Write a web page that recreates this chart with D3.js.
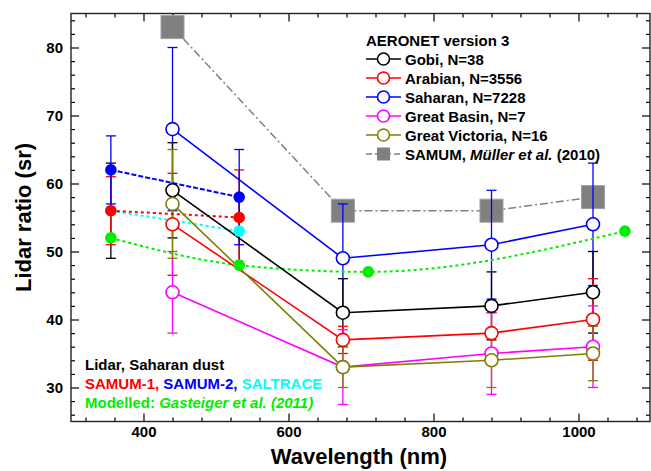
<!DOCTYPE html>
<html><head><meta charset="utf-8">
<script src="https://cdn.jsdelivr.net/npm/d3@7"></script>
<style>
html,body{margin:0;padding:0;background:#fff;}
text{font-family:"Liberation Sans",Arial,sans-serif;font-weight:bold;}
</style></head>
<body>
<svg id="chart" width="651" height="471"></svg>
<script>
// ---- data ----
const aeronetWl = [440, 675, 880, 1020];
const gobi = [59, 41, 42, 44];
const gobiErr = [7, 5, 5, 6];
const arabian = [54, 37, 38, 40];
const arabianErr = [7.5, 2, 3, 6];
const saharan = [68, 49, 51, 54];
const saharanErr = [12, 8, 8, 9];
const greatBasin = [44, 33, 35, 36];
const greatBasinErr = [6, 5.5, 6, 6];
const greatVictoria = [57, 33, 34, 35];
const greatVictoriaErr = [8, 3, 4, 4];
const samumMullerWl = [440, 675, 880, 1020];
const samumMuller = [83, 56, 56, 58];
const lidarWl = [355, 532];
const samum1 = [56, 55];
const samum1Err = [5, 7];
const samum2 = [62, 58];
const samum2Err = [5, 7];
const saltrace = [56, 53];
const saltraceErr = [7, 5];
const modelWl = [355, 532, 710, 1064];
const modelled = [52, 48, 47, 53];
const xMajor = [400, 600, 800, 1000];
const xMinor = [320,360,440,480,520,560,640,680,720,760,840,880,920,960,1040,1080];
const yMajor = [30, 40, 50, 60, 70, 80];
const yMinor = [26,28,32,34,36,38,42,44,46,48,52,54,56,58,62,64,66,68,72,74,76,78,82,84];
const legendNames = ["Gobi, N=38","Arabian, N=3556","Saharan, N=7228","Great Basin, N=7","Great Victoria, N=16"];

// ---- setup ----
const svg = d3.select("#chart");
const L = 71, R = 651, T = 13.5, B = 421.5;
const x = d3.scaleLinear().domain([300, 1100]).range([L, R]);
const y = d3.scaleLinear().domain([25, 85]).range([B, T]);

const aeronet = [
  {name: legendNames[0], color: "#000000", v: gobi, e: gobiErr},
  {name: legendNames[1], color: "#ff0000", v: arabian, e: arabianErr},
  {name: legendNames[2], color: "#0000ff", v: saharan, e: saharanErr},
  {name: legendNames[3], color: "#ff00ff", v: greatBasin, e: greatBasinErr},
  {name: legendNames[4], color: "#808000", v: greatVictoria, e: greatVictoriaErr}
];
const lidar = [
  {color: "#00ffff", errColor: "#000000", v: saltrace, e: saltraceErr, dash: "3,3"},
  {color: "#ff0000", errColor: "#ff0000", v: samum1, e: samum1Err, dash: "3,3"},
  {color: "#0000ff", errColor: "#0000ff", v: samum2, e: samum2Err, dash: "5,2"}
];

// ---- axes ----
function styleAxis(g){ g.select(".domain").remove(); g.selectAll("line").attr("stroke","#000").attr("stroke-width",1.2); }
svg.append("g").attr("transform",`translate(0,${B})`)
  .call(d3.axisBottom(x).tickValues(xMajor).tickSizeInner(-8).tickSizeOuter(0).tickPadding(5).tickFormat(d3.format("d")))
  .call(styleAxis).call(g=>g.selectAll("text").attr("font-size",15).attr("fill","#000").attr("dy","0.71em"));
svg.append("g").attr("transform",`translate(0,${B})`)
  .call(d3.axisBottom(x).tickValues(xMinor).tickSizeInner(-4).tickSizeOuter(0).tickFormat("")).call(styleAxis);
svg.append("g").attr("transform",`translate(0,${T})`)
  .call(d3.axisTop(x).tickValues(xMajor).tickSizeInner(-8).tickSizeOuter(0).tickFormat("")).call(styleAxis);
svg.append("g").attr("transform",`translate(0,${T})`)
  .call(d3.axisTop(x).tickValues(xMinor).tickSizeInner(-4).tickSizeOuter(0).tickFormat("")).call(styleAxis);
svg.append("g").attr("transform",`translate(${L},0)`)
  .call(d3.axisLeft(y).tickValues(yMajor).tickSizeInner(-8).tickSizeOuter(0).tickPadding(8).tickFormat(d3.format("d")))
  .call(styleAxis).call(g=>g.selectAll("text").attr("font-size",15).attr("fill","#000"));
svg.append("g").attr("transform",`translate(${L},0)`)
  .call(d3.axisLeft(y).tickValues(yMinor).tickSizeInner(-4).tickSizeOuter(0).tickFormat("")).call(styleAxis);
svg.append("g").attr("transform",`translate(${R-1},0)`)
  .call(d3.axisRight(y).tickValues(yMajor).tickSizeInner(-8).tickSizeOuter(0).tickFormat("")).call(styleAxis);
svg.append("g").attr("transform",`translate(${R-1},0)`)
  .call(d3.axisRight(y).tickValues(yMinor).tickSizeInner(-4).tickSizeOuter(0).tickFormat("")).call(styleAxis);
svg.append("rect").attr("x",L).attr("y",T).attr("width",R-1-L).attr("height",B-T)
  .attr("fill","none").attr("stroke","#222").attr("stroke-width",1.4);

// axis titles
svg.append("text").attr("x",(L+R)/2 - 2).attr("y",464).attr("text-anchor","middle").attr("font-size",22).text("Wavelength (nm)");
svg.append("text").attr("transform","rotate(-90)").attr("x",-(T+B)/2).attr("y",31).attr("text-anchor","middle").attr("font-size",22).text("Lidar ratio (sr)");

// ---- SAMUM Müller et al. ----
const line = d3.line().x(d=>x(d[0])).y(d=>y(d[1]));
const mPts = samumMullerWl.map((w,i)=>[w, samumMuller[i]]);
svg.append("path").attr("d", line(mPts)).attr("fill","none").attr("stroke","#808080").attr("stroke-width",1.5).attr("stroke-dasharray","8,3,2,3");
svg.selectAll(".sq").data(mPts).enter().append("rect")
  .attr("x",d=>x(d[0])-11.5).attr("y",d=>y(d[1])-11.5).attr("width",23).attr("height",23)
  .attr("fill","#808080").attr("stroke","#a0a0a0").attr("stroke-width",1);

// ---- error bars ----
function errBars(wl, vals, errs, color){
  const g = svg.append("g").attr("stroke",color).attr("stroke-width",1.3);
  wl.forEach((w,i)=>{
    const cx = x(w), y1 = y(vals[i]+errs[i]), y2 = y(vals[i]-errs[i]);
    g.append("line").attr("x1",cx).attr("x2",cx).attr("y1",y1).attr("y2",y2);
    g.append("line").attr("x1",cx-5).attr("x2",cx+5).attr("y1",y1).attr("y2",y1);
    g.append("line").attr("x1",cx-5).attr("x2",cx+5).attr("y1",y2).attr("y2",y2);
  });
}
[aeronet[2], aeronet[0], aeronet[1], aeronet[3], aeronet[4]].forEach(s=>errBars(aeronetWl, s.v, s.e, s.color));
lidar.forEach(s=>errBars(lidarWl, s.v, s.e, s.errColor));

// ---- lidar / model lines ----
lidar.forEach(s=>{
  svg.append("path").attr("d", line(lidarWl.map((w,i)=>[w, s.v[i]])))
    .attr("fill","none").attr("stroke",s.color).attr("stroke-width",2).attr("stroke-dasharray",s.dash);
});
const modelPts = modelWl.map((w,i)=>[w, modelled[i]]);
svg.append("path").attr("d", d3.line().x(d=>x(d[0])).y(d=>y(d[1])).curve(d3.curveMonotoneX)(modelPts))
  .attr("fill","none").attr("stroke","#00ee00").attr("stroke-width",2).attr("stroke-dasharray","3,3");

// ---- AERONET lines ----
aeronet.forEach(s=>{
  svg.append("path").attr("d", line(aeronetWl.map((w,i)=>[w, s.v[i]])))
    .attr("fill","none").attr("stroke",s.color).attr("stroke-width",1.6);
});

// ---- markers ----
lidar.forEach(s=>{
  svg.selectAll(null).data(lidarWl.map((w,i)=>[w, s.v[i]])).enter().append("circle")
    .attr("cx",d=>x(d[0])).attr("cy",d=>y(d[1])).attr("r",5.8).attr("fill",s.color);
});
svg.selectAll(null).data(modelPts).enter().append("circle")
  .attr("cx",d=>x(d[0])).attr("cy",d=>y(d[1])).attr("r",5.8).attr("fill","#00ee00");
aeronet.forEach(s=>{
  svg.selectAll(null).data(aeronetWl.map((w,i)=>[w, s.v[i]])).enter().append("circle")
    .attr("cx",d=>x(d[0])).attr("cy",d=>y(d[1])).attr("r",6.5)
    .attr("fill","#fff").attr("stroke",s.color).attr("stroke-width",1.6);
});

// ---- legend ----
const lg = svg.append("g");
lg.append("text").attr("x",366).attr("y",46).attr("font-size",15).text("AERONET version 3");
aeronet.forEach((s,i)=>{
  const cy = 59 + i*19;
  lg.append("line").attr("x1",366).attr("x2",401).attr("y1",cy).attr("y2",cy).attr("stroke",s.color).attr("stroke-width",1.6);
  lg.append("circle").attr("cx",383.5).attr("cy",cy).attr("r",6).attr("fill","#fff").attr("stroke",s.color).attr("stroke-width",1.6);
  lg.append("text").attr("x",405).attr("y",cy+5.5).attr("font-size",15).text(s.name);
});
{
  const cy = 59 + 5*19;
  lg.append("line").attr("x1",366).attr("x2",401).attr("y1",cy).attr("y2",cy).attr("stroke","#808080").attr("stroke-width",1.5).attr("stroke-dasharray","6,3,2,3");
  lg.append("rect").attr("x",377).attr("y",cy-6.5).attr("width",13).attr("height",13).attr("fill","#808080");
  const t = lg.append("text").attr("x",405).attr("y",cy+5.5).attr("font-size",15);
  t.append("tspan").text("SAMUM, ");
  t.append("tspan").attr("font-style","italic").text("Müller et al.");
  t.append("tspan").text(" (2010)");
}

// ---- lidar text block ----
svg.append("text").attr("x",85).attr("y",370).attr("font-size",15).attr("fill","#000").text("Lidar, Saharan dust");
const t2 = svg.append("text").attr("x",85).attr("y",389).attr("font-size",15);
t2.append("tspan").attr("fill","#ff0000").text("SAMUM-1, ");
t2.append("tspan").attr("fill","#0000ff").text("SAMUM-2, ");
t2.append("tspan").attr("fill","#00ffff").text("SALTRACE");
const t3 = svg.append("text").attr("x",85).attr("y",408).attr("font-size",15).attr("fill","#00ee00");
t3.append("tspan").text("Modelled: ");
t3.append("tspan").attr("font-style","italic").text("Gasteiger et al. (2011)");
</script>
</body></html>
